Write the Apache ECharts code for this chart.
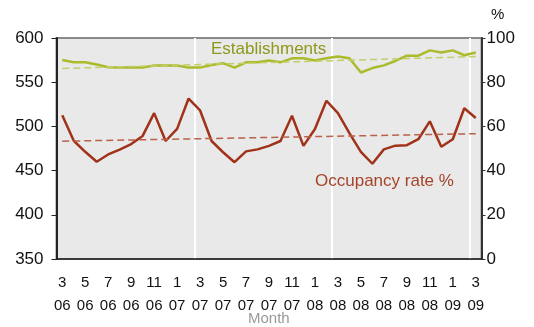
<!DOCTYPE html>
<html>
<head>
<meta charset="utf-8">
<script src="https://cdn.jsdelivr.net/npm/echarts@6/dist/echarts.min.js"></script>
<style>
  html, body { margin: 0; padding: 0; background: #ffffff; }
  #chart { width: 534px; height: 327px; }
</style>
</head>
<body>
<div id="chart"></div>
<script>
// Month labels, March 2006 to March 2009 (month on the first line, year on the second)
const categories = [
  '3\n06','4\n06','5\n06','6\n06','7\n06','8\n06','9\n06','10\n06','11\n06','12\n06',
  '1\n07','2\n07','3\n07','4\n07','5\n07','6\n07','7\n07','8\n07','9\n07','10\n07','11\n07','12\n07',
  '1\n08','2\n08','3\n08','4\n08','5\n08','6\n08','7\n08','8\n08','9\n08','10\n08','11\n08','12\n08',
  '1\n09','2\n09','3\n09'
];

// Number of establishments (left axis)
const establishments = [
  575, 572.5, 572.5, 570, 567, 566.5, 566.5, 566.5, 569, 569,
  569, 566.5, 566.5, 569.5, 571.5, 566.5, 572.5, 572.5, 574.5, 572.5,
  577, 577, 574.5, 577, 579, 577, 561, 566, 569, 574,
  580, 580, 586, 583.5, 586, 580.5, 583.5
];

// Occupancy rate in % (right axis)
const occupancy = [
  65, 53.5, 48.5, 44, 47.3, 49.5, 52, 55.7, 66, 53.4,
  58.9, 72.6, 67.2, 53.4, 48.3, 43.8, 48.7, 49.6, 51.2, 53.4,
  64.8, 51.2, 58.8, 71.6, 66, 57, 48.5, 43.1, 49.6, 51.3,
  51.5, 54.2, 62.3, 50.8, 54.2, 68.2, 63.8
];

// Linear trend end values (first month, last month)
const establishmentsTrend = [565.5, 579];
const occupancyTrend = [53.3, 56.7];

// Axis ranges
const leftAxisRange = [350, 600, 50];
const rightAxisRange = [0, 100, 20];

const GREEN = '#abbb2c';
const GREEN_TREND = '#c3cf6a';
const RED = '#a0321a';
const RED_TREND = '#b9604a';
const FONT = 'Liberation Sans, Arial, sans-serif';

const chart = echarts.init(document.getElementById('chart'), null, { renderer: 'canvas' });

function trendLine(values, color) {
  return {
    silent: true,
    symbol: ['none', 'none'],
    label: { show: false },
    lineStyle: { color: color, type: [7, 4], width: 1.5 },
    data: [[
      { coord: [0, values[0]] },
      { coord: [categories.length - 1, values[1]] }
    ]]
  };
}

chart.setOption({
  animation: false,
  backgroundColor: '#ffffff',
  grid: {
    left: 56.5, right: 52.5, top: 38, bottom: 68,
    outerBoundsMode: 'none',
    containLabel: false,
    show: true,
    backgroundColor: '#e9e9e9',
    borderColor: '#8a8a8a',
    borderWidth: 2
  },
  xAxis: {
    type: 'category',
    data: categories,
    boundaryGap: true,
    axisLine: { lineStyle: { color: '#222222', width: 1.5 } },
    axisTick: { interval: 11, length: 5, lineStyle: { color: '#222222', width: 1 } },
    axisLabel: {
      interval: 1, color: '#111111', fontSize: 15, fontFamily: FONT,
      lineHeight: 23.5, margin: 12
    },
    splitLine: { show: true, interval: 11, lineStyle: { color: '#ffffff', width: 2 } }
  },
  yAxis: [
    {
      type: 'value',
      min: leftAxisRange[0], max: leftAxisRange[1], interval: leftAxisRange[2],
      position: 'left',
      axisLine: { show: true, lineStyle: { color: '#222222', width: 2 } },
      axisTick: { show: true, length: 5, lineStyle: { color: '#222222' } },
      axisLabel: { color: '#111111', fontSize: 17, fontFamily: FONT, margin: 13 },
      splitLine: { show: false }
    },
    {
      type: 'value',
      min: rightAxisRange[0], max: rightAxisRange[1], interval: rightAxisRange[2],
      position: 'right',
      axisLine: { show: true, lineStyle: { color: '#333333', width: 2 } },
      axisTick: { show: true, length: 4, lineStyle: { color: '#333333' } },
      axisLabel: { color: '#111111', fontSize: 17, fontFamily: FONT, margin: 5 },
      splitLine: { show: false }
    }
  ],
  series: [
    {
      name: 'Establishments',
      type: 'line',
      yAxisIndex: 0,
      data: establishments,
      symbol: 'none',
      lineStyle: { color: GREEN, width: 2.5 },
      markLine: trendLine(establishmentsTrend, GREEN_TREND),
      z: 3
    },
    {
      name: 'Occupancy rate %',
      type: 'line',
      yAxisIndex: 1,
      data: occupancy,
      symbol: 'none',
      lineStyle: { color: RED, width: 2.5 },
      markLine: trendLine(occupancyTrend, RED_TREND),
      z: 3
    }
  ],
  graphic: [
    {
      type: 'text', left: 211, top: 41, z: 10,
      style: { text: 'Establishments', fill: '#8e981c', font: '17px ' + FONT }
    },
    {
      type: 'text', left: 315, top: 173, z: 10,
      style: { text: 'Occupancy rate %', fill: '#a5432a', font: '17px ' + FONT }
    },
    {
      type: 'text', left: 491, top: 7, z: 10,
      style: { text: '%', fill: '#111111', font: '15px ' + FONT }
    },
    {
      type: 'text', left: 248, top: 311, z: 10,
      style: { text: 'Month', fill: '#999999', font: '15px ' + FONT }
    }
  ]
});
</script>
</body>
</html>
